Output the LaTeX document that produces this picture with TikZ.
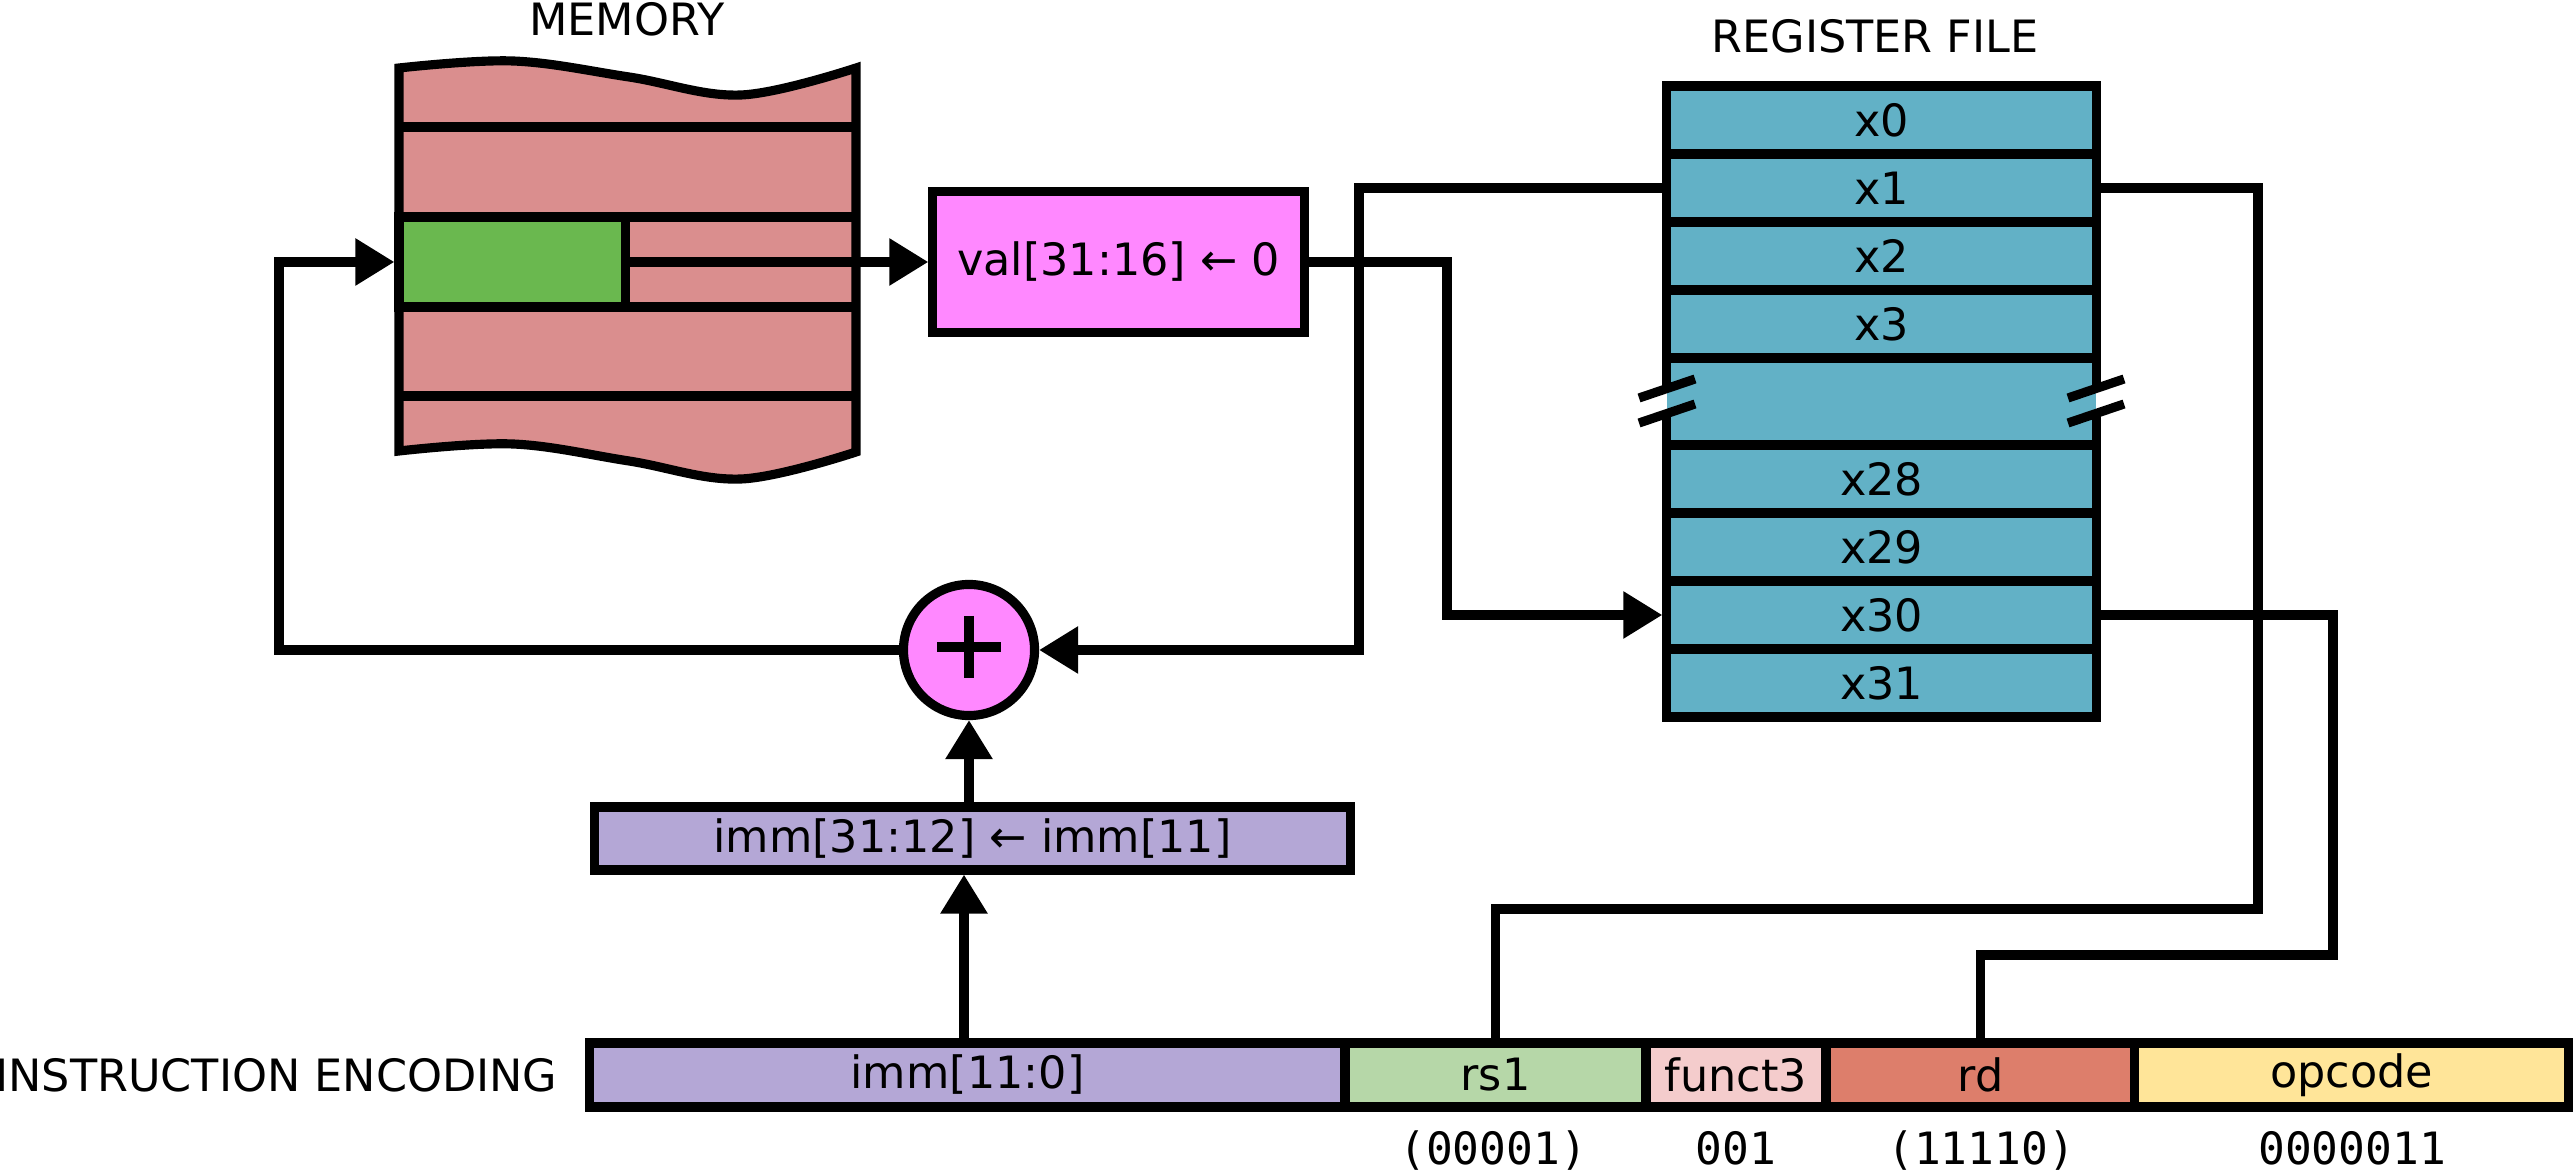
\documentclass[tikz,border=0pt]{standalone}
\usepackage{fontspec}
\setmainfont{DejaVu Sans}
\setmonofont{DejaVu Sans Mono}
\usetikzlibrary{arrows.meta}

\definecolor{memred}{HTML}{DA8E8E}
\definecolor{cellgreen}{HTML}{6AB84F}
\definecolor{opink}{HTML}{FF88FF}
\definecolor{regteal}{HTML}{62B1C6}
\definecolor{immlav}{HTML}{B4A7D6}
\definecolor{rsgreen}{HTML}{B6D7A8}
\definecolor{fnpink}{HTML}{F4CCCC}
\definecolor{rdred}{HTML}{DD7E6B}
\definecolor{opyellow}{HTML}{FFE599}

\begin{document}
\begin{tikzpicture}[x=0.01cm, y=-0.01cm, line width=2.6pt,
  every node/.style={font=\fontsize{12.66pt}{15pt}\selectfont, inner sep=0pt},
  regrow/.style={draw, fill=regteal, minimum width=4.29cm, minimum height=0.68cm},
  field/.style={draw, minimum height=0.64cm},
  arr/.style={-{Triangle[length=11.1pt,width=12.8pt]}},
  lbl/.style={anchor=base},
  ]
\useasboundingbox (0,0) rectangle (2576,1171);

% ---- memory block with torn top and bottom edges
\filldraw[fill=memred]
  plot[smooth, tension=0.6] coordinates {(399,68) (513,61) (629,77) (741,95) (856,68)}
  -- plot[smooth, tension=0.6] coordinates {(856,452) (741,479) (629,461) (513,444) (399,451)}
  -- cycle;
\foreach \yy in {127,217,307,396} \draw (399,\yy) -- (856,\yy);
\node[draw, fill=cellgreen, minimum width=2.26cm, minimum height=0.90cm] (cell) at (512,262) {};
\node[lbl] (memlabel) at (627,36) {MEMORY};

% ---- value truncation box
\node[draw, fill=opink, minimum width=3.71cm, minimum height=1.41cm] (val) at (1118.5,262) {val[31:16] ← 0};

% ---- register file
\node[lbl] (reglabel) at (1875,53) {REGISTER FILE};
\node[regrow] (x0)  at (1881.5,120) {x0};
\node[regrow] (x1)  at (1881.5,188) {x1};
\node[regrow] (x2)  at (1881.5,256) {x2};
\node[regrow] (x3)  at (1881.5,324) {x3};
\node[regrow, minimum height=0.87cm] (gap) at (1881.5,401.5) {};
\node[regrow] (x28) at (1881.5,479) {x28};
\node[regrow] (x29) at (1881.5,547) {x29};
\node[regrow] (x30) at (1881.5,615) {x30};
\node[regrow] (x31) at (1881.5,683) {x31};

% break marks on both sides of the elided rows
\fill[white]   (1661,391) rectangle (1667,411);
\fill[regteal] (1667,391) rectangle (1673,411);
\fill[regteal] (2090,391) rectangle (2096,411);
\fill[white]   (2096,391) rectangle (2102,411);
\foreach \sx in {1667,2096} {
  \draw (\sx-28,398) -- (\sx+28,379);
  \draw (\sx-28,423) -- (\sx+28,404);
}

% ---- adder
\node[draw, circle, fill=opink, minimum size=1.31cm] (adder) at (969,650) {};
\draw (adder.center) ++(-32,-3) -- ++(64,0);
\draw (adder.center) ++(0,-34) -- ++(0,62);

% ---- sign extension box
\node[draw, fill=immlav, minimum width=7.55cm, minimum height=0.63cm] (ext) at (972.5,838.5) {imm[31:12] ← imm[11]};

% ---- instruction encoding
\node[anchor=east] (enc) at (562,1075) {INSTRUCTION ENCODING};
\node[field, fill=immlav,   minimum width=7.55cm] (imm)    at (967.5,1075)  {imm[11:0]};
\node[field, fill=rsgreen,  minimum width=3.01cm] (rs1)    at (1495.5,1075) {rs1};
\node[field, fill=fnpink,   minimum width=1.80cm] (funct3) at (1736,1075)   {funct3};
\node[field, fill=rdred,    minimum width=3.09cm] (rd)     at (1980.5,1075) {rd};
\node[field, fill=opyellow, minimum width=4.33cm] (opcode) at (2351.5,1075) {opcode};

\node[lbl] (rs1val) at (1493,1164) {\ttfamily (00001)};
\node[lbl] (fnval)  at (1736,1164) {\ttfamily 001};
\node[lbl] (rdval)  at (1981,1164) {\ttfamily (11110)};
\node[lbl] (opval)  at (2352,1164) {\ttfamily 0000011};

% ---- bend columns and rows of the wires
\coordinate (colL) at (279,0);
\coordinate (colM) at (1359,0);
\coordinate (colV) at (1447,0);
\coordinate (colB) at (2258,0);
\coordinate (colC) at (2333,0);
\coordinate (rowA) at (0,909);
\coordinate (rowB) at (0,955);

% ---- connectors
\draw[arr] (cell.east) -- (val.west);
\draw[arr] (val.east) -- (val.east -| colV) |- (x30.west);
\draw[arr] (x1.west) -- (x1.west -| colM) |- (adder.east);
\draw[arr] (adder.west) -- (adder.west -| colL) |- (cell.west);
\draw[arr] (adder.south |- ext.north) -- (adder.south);
\draw[arr] ([xshift=-0.035cm]imm.north) -- ([xshift=-0.035cm]imm.north |- ext.south);
\draw (rs1.north) -- (rs1.north |- rowA) -- (colB |- rowA) |- (x1.east);
\draw (rd.north) -- (rd.north |- rowB) -- (colC |- rowB) |- (x30.east);
\end{tikzpicture}
\end{document}
